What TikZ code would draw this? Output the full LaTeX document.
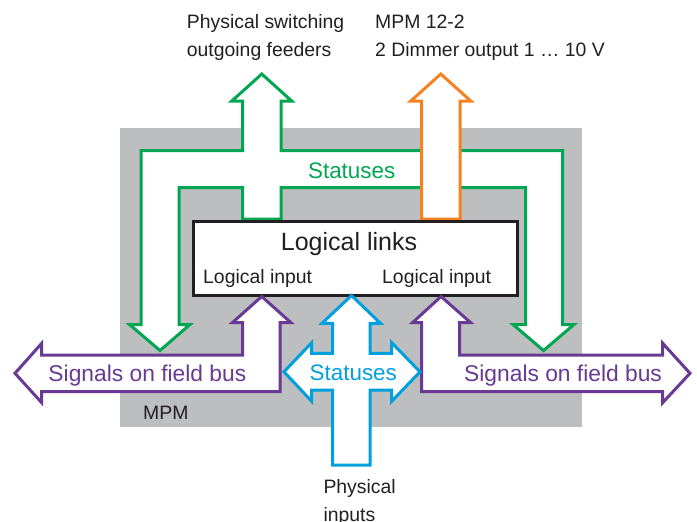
\documentclass[tikz,border=0pt]{standalone}
\usepackage{fontspec}
\setmainfont{Liberation Sans}
\definecolor{grn}{RGB}{0,166,81}
\definecolor{org}{RGB}{245,130,32}
\definecolor{blu}{RGB}{0,160,223}
\definecolor{pur}{RGB}{104,58,147}
\definecolor{gry}{RGB}{188,190,192}
\definecolor{txt}{RGB}{35,31,32}
\tikzset{
  arrowshape/.style={line width=3pt, fill=white, line join=miter, miter limit=10},
  smalltxt/.style={inner sep=0pt, text=txt, font=\fontsize{19.4}{23}\selectfont},
  bigtxt/.style={inner sep=0pt, font=\fontsize{22.8}{27}\selectfont},
  stattxt/.style={inner sep=0pt, font=\fontsize{22.4}{26}\selectfont},
}
\begin{document}
\begin{tikzpicture}[x=1pt,y=-1pt]
\useasboundingbox (0,0) rectangle (697,522);
% MPM background
\fill[gry] (120,128) rectangle (582,427);
% green statuses shape
\draw[arrowshape, draw=grn]
  (160,350.5) -- (190,324.5) -- (179,324.5) -- (179,187.7) -- (242.7,187.7) -- (242.7,219) -- (281,219)
  -- (281,187.7) -- (525.5,187.7) -- (525.5,324.5) -- (513,324.5) -- (543.5,350.5) -- (574,324.5)
  -- (562.5,324.5) -- (562.5,150.7) -- (281,150.7) -- (281,101) -- (291.7,101) -- (261.8,74)
  -- (231.8,101) -- (242.7,101) -- (242.7,150.7) -- (141,150.7) -- (141,324.5) -- (129.5,324.5) -- cycle;
% orange dimmer arrow
\draw[arrowshape, draw=org]
  (421.7,219) -- (421.7,101) -- (410.8,101) -- (440.8,74) -- (470.8,101) -- (460,101) -- (460,219) -- cycle;
% logical links box
\node[draw=txt, line width=3pt, fill=white, minimum width=324pt, minimum height=74pt, inner sep=0pt]
  (box) at (355,258) {};
\node[inner sep=0pt, text=txt, font=\fontsize{25}{30}\selectfont, anchor=base] (links) at (349,250) {Logical links};
\node[smalltxt, anchor=base west] (inL) at (203,283.5) {Logical input};
\node[smalltxt, anchor=base west] (inR) at (382,283.5) {Logical input};
% purple left shape
\draw[arrowshape, draw=pur]
  (15,373.3) -- (41.7,343.3) -- (41.7,355) -- (242.7,355) -- (242.7,322.7) -- (232.3,322.7)
  -- (261.7,296.5) -- (291,322.7) -- (280,322.7) -- (280,391.7) -- (41.7,391.7) -- (41.7,402.7) -- cycle;
% purple right shape
\draw[arrowshape, draw=pur]
  (690,373.3) -- (662.7,343.3) -- (662.7,355) -- (459.5,355) -- (459.5,322.7) -- (470.7,322.7)
  -- (441,296.5) -- (412.5,322.7) -- (421.7,322.7) -- (421.7,391.7) -- (662.7,391.7) -- (662.7,402.7) -- cycle;
% blue statuses cross
\draw[arrowshape, draw=blu]
  (351.5,295.5) -- (380.5,323.3) -- (370,323.3) -- (370,353.3) -- (391.7,353.3) -- (391.7,342.7)
  -- (420,371.8) -- (391.7,401.3) -- (391.7,390) -- (370,390) -- (370,465) -- (332.5,465)
  -- (332.5,390) -- (311.7,390) -- (311.7,401.3) -- (284,371.8) -- (311.7,342.7) -- (311.7,353.3)
  -- (332.5,353.3) -- (332.5,323.3) -- (322,323.3) -- cycle;
% texts
\node[stattxt, text=grn, anchor=base] (stg) at (351.7,178.3) {Statuses};
\node[stattxt, text=blu, anchor=base] (stb) at (353.3,380.7) {Statuses};
\node[bigtxt, text=pur, anchor=base west] (sigL) at (48.3,381) {Signals on field bus};
\node[bigtxt, text=pur, anchor=base west] (sigR) at (464,381) {Signals on field bus};
\node[smalltxt, anchor=base west] (mpm) at (143,419.3) {MPM};
\node[smalltxt, anchor=base west] (ps1) at (186.7,28.3) {Physical switching};
\node[smalltxt, anchor=base west] (ps2) at (186.7,56.8) {outgoing feeders};
\node[smalltxt, anchor=base west] (mp1) at (375,28.3) {MPM 12-2};
\node[smalltxt, anchor=base west] (mp2) at (375,56.8) {2 Dimmer output 1 … 10 V};
\node[smalltxt, anchor=base west] (pi1) at (323.3,493) {Physical};
\node[smalltxt, anchor=base west] (pi2) at (323.3,521.4) {inputs};
\end{tikzpicture}
\end{document}
